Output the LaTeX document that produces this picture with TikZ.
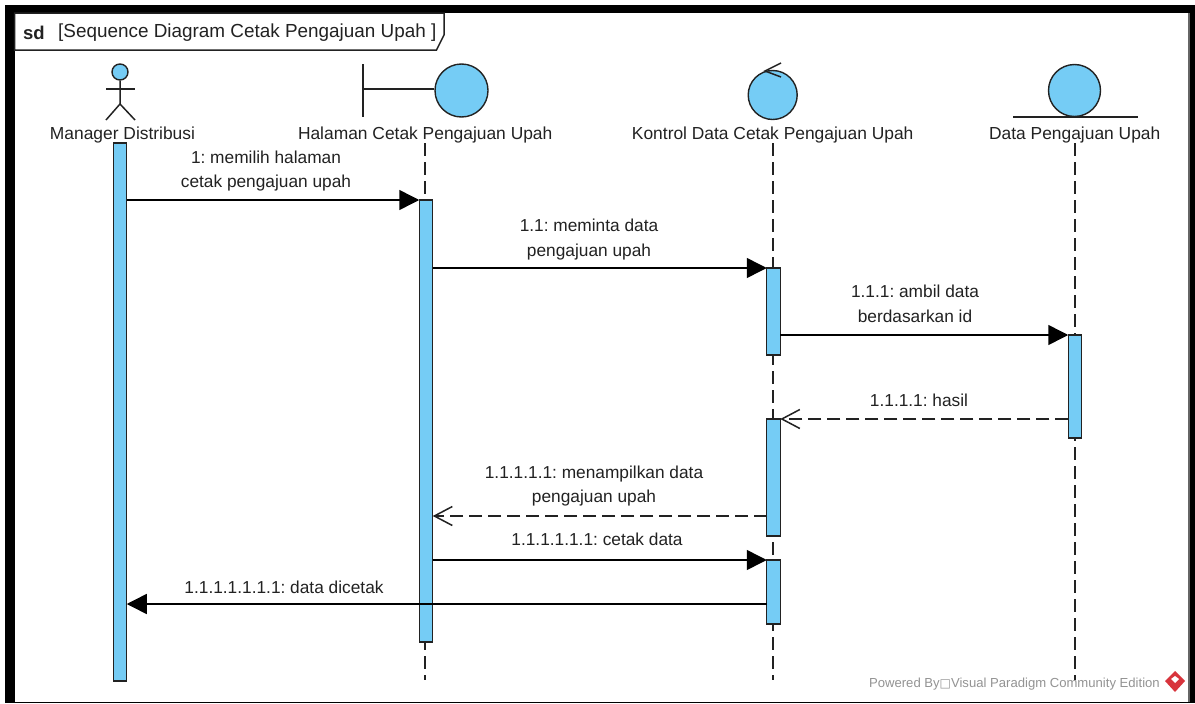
\documentclass[tikz,border=0pt]{standalone}
\usepackage{fontspec}
\setmainfont{Liberation Sans}
\newfontfamily\symfont{DejaVu Sans}
\usetikzlibrary{arrows.meta}
\definecolor{vpblue}{HTML}{75CCF5}
\definecolor{vpink}{HTML}{222222}
\definecolor{vpred}{HTML}{D8343C}

\begin{document}
\frenchspacing
\begin{tikzpicture}[
      x=1pt,
      y=-1pt,
      every node/.style={text=vpink, font=\fontsize{17.3}{24.6}\selectfont},
      lifename/.style={
        anchor=base,
        inner sep=1.5pt,
        font=\fontsize{17.4}{24.6}\selectfont,
        text height=13pt,
        text depth=2pt
      },
      bar/.style={
        draw=vpink,
        fill=vpblue,
        line width=1.4pt,
        inner sep=0pt,
        outer sep=0pt,
        minimum width=13.5pt
      },
      icon/.style={
        draw=vpink,
        fill=vpblue,
        circle,
        line width=1.4pt,
        inner sep=0pt
      },
      stroke/.style={
        draw=vpink,
        line width=1.5pt
      },
      life/.style={
        draw=vpink,
        line width=1.8pt,
        dash pattern=on 13pt off 6pt
      },
      call/.style={
        draw=black,
        line width=1.5pt,
        -{Triangle[length=20pt,width=20pt]}
      },
      reply/.style={
        draw=vpink,
        line width=1.5pt,
        dash pattern=on 13pt off 6pt,
        -{Straight Barb[length=18pt,width=19pt,line width=1.5pt]}
      },
      msg/.style={align=center, inner sep=0pt}
    ]
    \useasboundingbox (0,0) rectangle (1195,704);
    %% Frame
    \fill[black] (5,5) rectangle (1195,703);
    \fill[white] (14.5,13) rectangle (1190,702);
    \fill[gray!80!black] (1188,13) rectangle (1190,702);
    \draw[stroke, fill=white]
      (14.5,13) -- (444,13) -- (444,35) -- (436.5,50) -- (14.5,50) -- cycle;
    \node[anchor=west, inner sep=0pt, font=\fontsize{18.5}{22}\selectfont] (sd) at (23,33) {\textbf{sd}};
    \node[anchor=west, inner sep=0pt, font=\fontsize{18.9}{22}\selectfont] (sd-title) at (58,33) {[Sequence Diagram Cetak Pengajuan Upah ]};
    %% Manager
    \node[icon, minimum size=16pt] (m-head) at (120,72) {};
    \node[lifename] (m-name) at (122.5,139.5) {Manager Distribusi};
    \coordinate (m-neck) at (120,104);
    \coordinate (m-foot-l) at (106,120);
    \coordinate (m-foot-r) at (135,120);
    \coordinate (m-arm-l) at (106,89);
    \coordinate (m-arm-r) at (135,89);
    \draw[stroke] (m-head) -- (m-neck) -- (m-foot-l);
    \draw[stroke] (m-neck) -- (m-foot-r);
    \draw[stroke] (m-arm-l) -- (m-arm-r);
    %% Halaman
    \node[icon, minimum size=53pt] (h-icon) at (461.5,90.5) {};
    \coordinate (h-top) at (363,64);
    \coordinate (h-bottom) at (363,117);
    \coordinate (h-mid) at (363,89);
    \draw[stroke] (h-top) -- (h-bottom);
    \draw[stroke] (h-mid) -- (h-mid -| h-icon.west);
    \node[lifename] (h-name) at (425.2,139.5) {Halaman Cetak Pengajuan Upah};
    \coordinate (h-end) at (425.2,680);
    \draw[life] (h-name.south) -- (h-end);
    %% Kontrol
    \node[icon, minimum size=49pt] (k-icon) at (772.7,95) {};
    \coordinate (k-tip) at (765,71);
    \coordinate (k-up) at (781,63);
    \coordinate (k-down) at (781,77);
    \draw[stroke] (k-up) -- (k-tip) -- (k-down);
    \node[lifename] (k-name) at (772.7,139.5) {Kontrol Data Cetak Pengajuan Upah};
    \coordinate (k-end) at (772.7,680);
    \draw[life] (k-name.south) -- (k-end);
    %% Data
    \node[icon, minimum size=52pt] (d-icon) at (1074.5,90.5) {};
    \coordinate (d-left) at (1013,117);
    \coordinate (d-right) at (1138,117);
    \draw[stroke] (d-left) -- (d-right);
    \node[lifename] (d-name) at (1074.7,139.5) {Data Pengajuan Upah};
    \coordinate (d-end) at (1074.7,680);
    \draw[life] (d-name.south) -- (d-end);
    %% Activations
    \node[bar, minimum height=538pt] (m-1) at (120,412) {};
    \node[bar, minimum height=442pt] (h-1) at (426,421) {};
    \node[bar, minimum height=87pt] (k-1) at (773.5,311.5) {};
    \node[bar, minimum height=117pt] (k-2) at (773.5,477.5) {};
    \node[bar, minimum height=64pt] (k-3) at (773.5,592) {};
    \node[bar, minimum height=103pt] (d-1) at (1075,386.5) {};
    %% Messages
    %% 1
    \node[msg] (l-1) at (266,171) {1: memilih halaman\\cetak pengajuan upah};
    \draw[call] (m-1.east |- h-1.north) -- (h-1.north west);
    %% 1.1
    \node[msg] (l-2) at (589,239.5) {1.1: meminta data\\pengajuan upah};
    \draw[call] (h-1.east |- k-1.north) -- (k-1.north west);
    %% 1.1.1
    \node[msg] (l-3) at (915,304) {1.1.1: ambil data\\berdasarkan id};
    \draw[call] (k-1.east |- d-1.north) -- (d-1.north west);
    %% 1.1.1.1
    \node[msg] (l-4) at (919,400) {1.1.1.1: hasil};
    \draw[reply] (d-1.west |- k-2.north) -- (k-2.north east);
    %% 1.1.1.1.1
    \node[msg] (l-5) at (594,486) {1.1.1.1.1: menampilkan data\\pengajuan upah};
    \coordinate (r-5) at (767,516);
    \draw[reply] (r-5) -- (r-5 -| h-1.east);
    %% 1.1.1.1.1.1
    \node[msg] (l-6) at (597,539) {1.1.1.1.1.1: cetak data};
    \draw[call] (h-1.east |- k-3.north) -- (k-3.north west);
    %% 1.1.1.1.1.1.1
    \node[msg] (l-7) at (284,587) {1.1.1.1.1.1.1: data dicetak};
    \coordinate (r-7) at (767,604);
    \draw[call] (r-7) -- (r-7 -| m-1.east);
    %% Watermark
    \node[anchor=east, inner sep=0pt, text=gray!85, font=\fontsize{13.1}{15}\selectfont] (wm) at (1160,684)
      {Powered By{\symfont\fontsize{12}{14}\selectfont □}Visual Paradigm Community Edition};
    \fill[vpred] (1175,671) -- (1185,681) -- (1175,692) -- (1165,681) -- cycle;
    \fill[white] (1175,676) -- (1179,679) -- (1175,683) -- (1171,679) -- cycle;
  \end{tikzpicture}
\end{document}
